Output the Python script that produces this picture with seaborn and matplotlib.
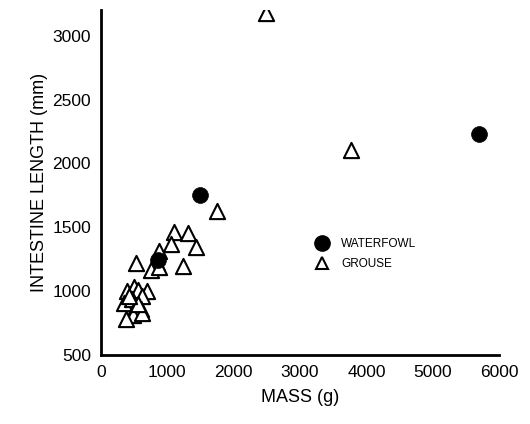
import matplotlib
matplotlib.use("Agg")
import matplotlib.pyplot as plt
import seaborn as sns
import pandas as pd
from matplotlib.lines import Line2D

sns.set_style("white")
plt.rcParams['font.family'] = ['Liberation Sans', 'DejaVu Sans']
plt.rcParams['text.color'] = 'black'
plt.rcParams['axes.labelcolor'] = 'black'

waterfowl_mass = [870, 1500, 5700]
waterfowl_len = [1245, 1750, 2230]

grouse_mass = [390, 500, 560, 700, 620, 350, 470, 530, 600, 480, 620, 380, 560, 430,
               1110, 1317, 1060, 1440, 885, 855, 760, 530, 1245, 880, 1750, 2484, 3766]
grouse_len = [1000, 1030, 1010, 1000, 960, 910, 940, 880, 860, 810, 830, 780, 900, 960,
              1460, 1455, 1370, 1347, 1310, 1216, 1164, 1220, 1200, 1190, 1625, 3174, 2107]

df = pd.DataFrame({
    "mass": grouse_mass + waterfowl_mass,
    "length": grouse_len + waterfowl_len,
    "group": ["GROUSE"] * len(grouse_mass) + ["WATERFOWL"] * len(waterfowl_mass),
})

fig = plt.figure(figsize=(5.30, 4.24), dpi=100)
ax = fig.add_axes([0.19, 0.163, 0.752, 0.813])

g = df[df.group == "GROUSE"]
w = df[df.group == "WATERFOWL"]
sns.scatterplot(data=g, x="mass", y="length", marker="^", s=120, facecolor="white",
                edgecolor="black", linewidth=1.5, ax=ax, zorder=3)
sns.scatterplot(data=w, x="mass", y="length", marker="o", s=130, color="black",
                edgecolor="black", linewidth=0.5, ax=ax, zorder=4)

ax.set_xlim(0, 6000)
ax.set_ylim(500, 3200)
ax.set_xticks(range(0, 6001, 1000))
ax.set_yticks(range(500, 3001, 500))
for s in ["top", "right"]:
    ax.spines[s].set_visible(False)
for s in ["left", "bottom"]:
    ax.spines[s].set_linewidth(2)
    ax.spines[s].set_color("black")
ax.tick_params(direction="in", length=4, width=1.5, labelsize=12.5, colors="black",
               labelcolor="black", pad=7)
ax.set_xlabel("MASS (g)", fontsize=13, labelpad=7, color="black")
ax.set_ylabel("INTESTINE LENGTH (mm)", fontsize=13, labelpad=3, color="black")

handles = [
    Line2D([], [], marker="o", linestyle="", color="black", markersize=11),
    Line2D([], [], marker="^", linestyle="", markerfacecolor="white",
           markeredgecolor="black", markeredgewidth=1.5, markersize=9),
]
ax.legend(handles, ["WATERFOWL", "GROUSE"], loc="upper left",
          bbox_to_anchor=(0.5, 0.37), frameon=False, fontsize=8.5,
          handletextpad=0.6, labelspacing=0.7, labelcolor="black")

fig.savefig("out.png", dpi=100)
